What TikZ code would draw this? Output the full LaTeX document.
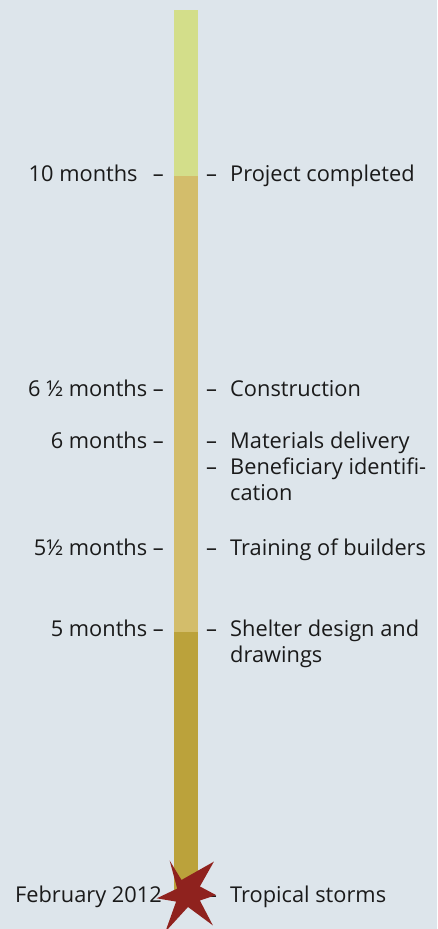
\documentclass[tikz,border=0pt]{standalone}
\usepackage{fontspec}
\setmainfont{Open Sans}
\definecolor{bgc}{HTML}{DDE5EB}
\definecolor{barA}{HTML}{D3DE8A}
\definecolor{barB}{HTML}{D3BD6B}
\definecolor{barC}{HTML}{BBA23B}
\definecolor{starc}{HTML}{8F221E}
\definecolor{txt}{HTML}{1A1A1A}
\begin{document}
\begin{tikzpicture}[x=1pt,y=-1pt,
  lbl/.style={anchor=base east, inner sep=0pt, text=txt, font=\fontsize{21.8}{27}\selectfont},
  rlbl/.style={anchor=base west, inner sep=0pt, text=txt, font=\fontsize{21.8}{27}\selectfont}]
\fill[bgc] (0,0) rectangle (437,929);
\useasboundingbox (0,0) rectangle (437,929);
% bar
\fill[barA] (174,10) rectangle (198,176);
\fill[barB] (174,176) rectangle (198,632);
\fill[barC] (174,632) rectangle (198,890);
% left labels
\node[lbl] (l10) at (164,181) {10 months\hspace{0.7em}–};
\node[lbl] (l65) at (164,396) {6 ½ months –};
\node[lbl] (l6) at (164,448) {6 months –};
\node[lbl] (l55) at (164,555) {5½ months –};
\node[lbl] (l5) at (164,636.5) {5 months –};
\node[lbl] (lfeb) at (162,902) {February 2012};
% right dashes
\foreach \n/\y in {d1/181,d2/396,d3/448,d4/474,d5/555,d6/636.5,d7/902}
  \node[rlbl] (\n) at (206,\y) {–};
% right labels
\node[rlbl] (r1) at (230,181) {Project completed};
\node[rlbl] (r2) at (230,396) {Construction};
\node[rlbl] (r3) at (230,448) {Materials delivery};
\node[rlbl] (r4a) at (230,474) {Beneficiary identifi-};
\node[rlbl] (r4b) at (230,500.5) {cation};
\node[rlbl] (r5) at (230,555) {Training of builders};
\node[rlbl] (r6a) at (230,636.5) {Shelter design and};
\node[rlbl] (r6b) at (230,662.5) {drawings};
\node[rlbl] (r7) at (230,902) {Tropical storms};
% star
\begin{scope}[shift={(188,894)}, scale=1.08, shift={(-188,-894)}]
\fill[starc] (171,863) -- (182,881) -- (212,864) -- (199,887) -- (214,895)
  -- (199,900) -- (211,923) -- (188,906) -- (167,929) -- (177,901)
  -- (159,898) -- (178,889) -- cycle;
\end{scope}
\end{tikzpicture}
\end{document}
